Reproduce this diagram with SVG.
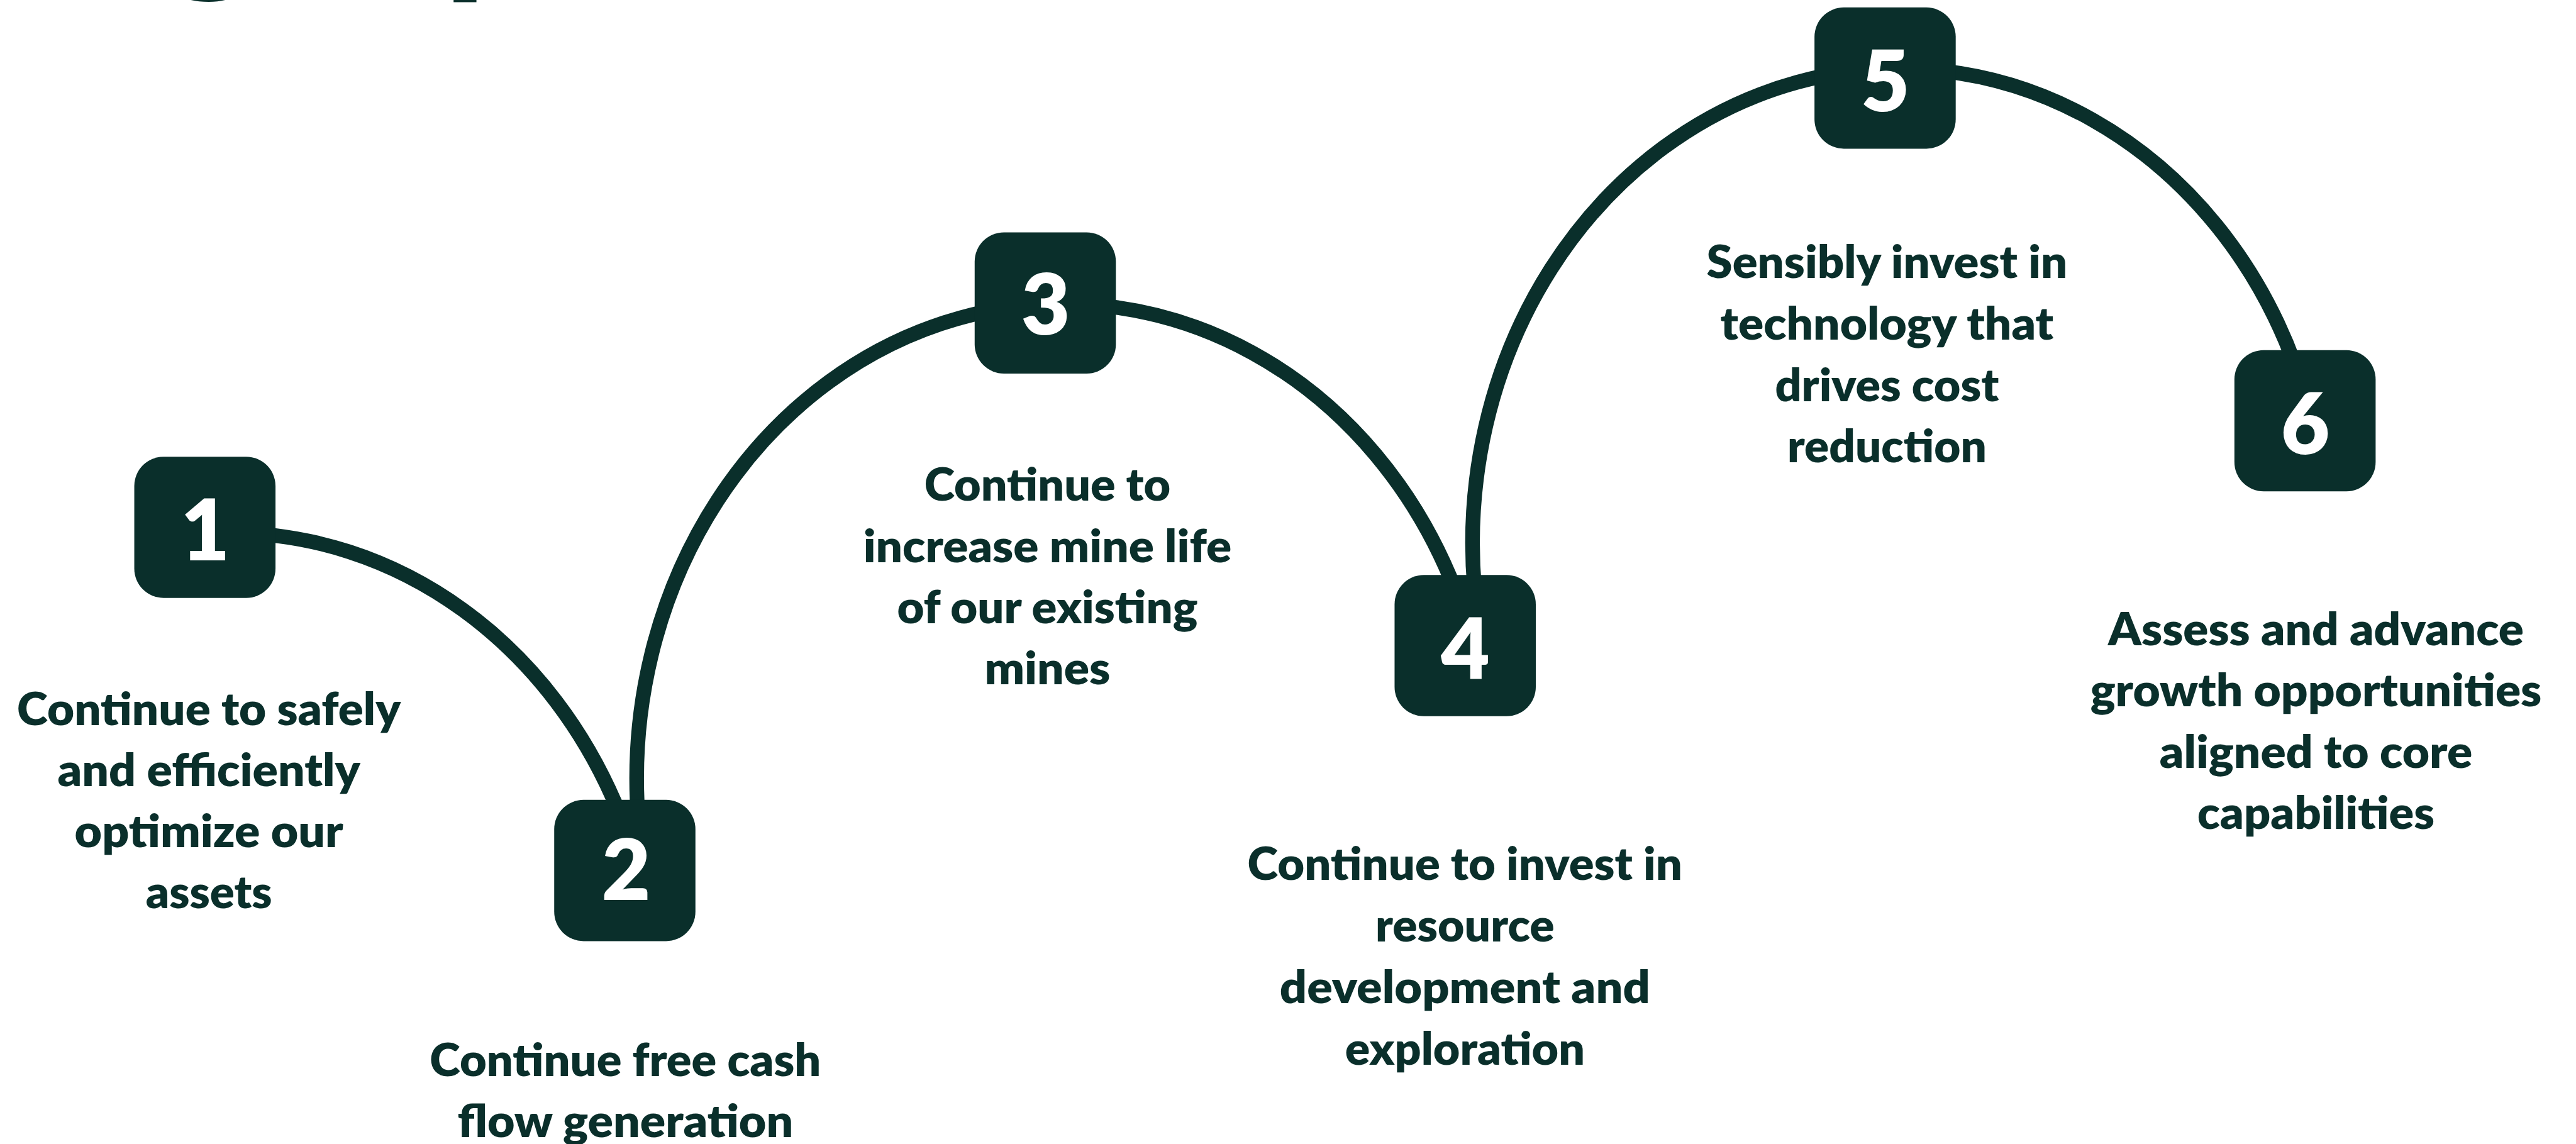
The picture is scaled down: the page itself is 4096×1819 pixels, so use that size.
<svg xmlns="http://www.w3.org/2000/svg" width="4096" height="1819" viewBox="0 0 4096 1819">
  <defs>
    <style>
      .bg { fill: #ffffff; }
      .arc { fill: none; stroke: #0A2F2B; stroke-width: 27.5; stroke-linecap: butt; }
      .box { fill: #0A2F2B; }
      .num { font-family: Lato, "Liberation Sans", sans-serif; font-weight: 800; font-size: 158px; fill: #ffffff; text-anchor: middle; }
      .lbl { font-family: Lato, "Liberation Sans", sans-serif; font-weight: 800; font-size: 85.5px; fill: #0A2F2B; text-anchor: middle; }
      .title { font-family: Lato, "Liberation Sans", sans-serif; font-weight: 700; font-size: 347px; fill: #0A2F2B; }
    </style>
  </defs>

  <rect class="bg" x="0" y="0" width="4096" height="1819"/>

  <!-- drawn in source units, scaled to the page -->
  <g transform="scale(0.84733)">

    <!-- heading, mostly above the page edge -->
    <text class="title"><tspan x="-633" y="-59">Strate</tspan><tspan x="304" y="-59">gic </tspan><tspan x="830" y="-54">priorities</tspan></text>

    <!-- path joining the steps -->
    <g id="connectors">
      <path class="arc" d="M 433 1000 A 801 891 0 0 1 1163 1528"/>
      <path class="arc" d="M 1197 1528 A 801 891 0 0 1 2730 1105"/>
      <path class="arc" d="M 2767 1105 A 801 891 0 0 1 4306 683"/>
    </g>

    <g id="step1">
      <rect class="box" x="252" y="857" width="265" height="265" rx="55"/>
      <text class="num" x="385" y="1051">1</text>
      <text class="lbl" x="392" y="1361" textLength="720" lengthAdjust="spacingAndGlyphs">Continue to safely</text>
      <text class="lbl" x="392" y="1475.5" textLength="568" lengthAdjust="spacingAndGlyphs">and efficiently</text>
      <text class="lbl" x="392" y="1590" textLength="504" lengthAdjust="spacingAndGlyphs">optimize our</text>
      <text class="lbl" x="392" y="1704" textLength="237" lengthAdjust="spacingAndGlyphs">assets</text>
    </g>

    <g id="step2">
      <rect class="box" x="1040" y="1501" width="265" height="265" rx="55"/>
      <text class="num" x="1175" y="1689">2</text>
      <text class="lbl" x="1173.5" y="2019" textLength="734" lengthAdjust="spacingAndGlyphs">Continue free cash</text>
      <text class="lbl" x="1173.5" y="2134" textLength="630" lengthAdjust="spacingAndGlyphs">flow generation</text>
    </g>

    <g id="step3">
      <rect class="box" x="1829" y="436" width="265" height="265" rx="55"/>
      <text class="num" x="1962" y="628">3</text>
      <text class="lbl" x="1965.5" y="940" textLength="462" lengthAdjust="spacingAndGlyphs">Continue to</text>
      <text class="lbl" x="1965.5" y="1055" textLength="691" lengthAdjust="spacingAndGlyphs">increase mine life</text>
      <text class="lbl" x="1965.5" y="1169" textLength="564" lengthAdjust="spacingAndGlyphs">of our existing</text>
      <text class="lbl" x="1965.5" y="1284.5" textLength="236" lengthAdjust="spacingAndGlyphs">mines</text>
    </g>

    <g id="step4">
      <rect class="box" x="2617" y="1079" width="265" height="265" rx="55"/>
      <text class="num" x="2750" y="1275">4</text>
      <text class="lbl" x="2749" y="1651" textLength="816" lengthAdjust="spacingAndGlyphs">Continue to invest in</text>
      <text class="lbl" x="2749" y="1766.5" textLength="336" lengthAdjust="spacingAndGlyphs">resource</text>
      <text class="lbl" x="2749" y="1882" textLength="695" lengthAdjust="spacingAndGlyphs">development and</text>
      <text class="lbl" x="2749" y="1997.5" textLength="450" lengthAdjust="spacingAndGlyphs">exploration</text>
    </g>

    <g id="step5">
      <rect class="box" x="3405" y="14" width="265" height="265" rx="55"/>
      <text class="num" x="3538" y="209">5</text>
      <text class="lbl" x="3541" y="522" textLength="677" lengthAdjust="spacingAndGlyphs">Sensibly invest in</text>
      <text class="lbl" x="3541" y="637" textLength="625" lengthAdjust="spacingAndGlyphs">technology that</text>
      <text class="lbl" x="3541" y="753" textLength="420" lengthAdjust="spacingAndGlyphs">drives cost</text>
      <text class="lbl" x="3541" y="867.5" textLength="374" lengthAdjust="spacingAndGlyphs">reduction</text>
    </g>

    <g id="step6">
      <rect class="box" x="4193" y="657" width="265" height="265" rx="55"/>
      <text class="num" x="4326" y="852">6</text>
      <text class="lbl" x="4346" y="1211" textLength="780" lengthAdjust="spacingAndGlyphs">Assess and advance</text>
      <text class="lbl" x="4346" y="1325" textLength="847" lengthAdjust="spacingAndGlyphs">growth opportunities</text>
      <text class="lbl" x="4346" y="1440.5" textLength="587" lengthAdjust="spacingAndGlyphs">aligned to core</text>
      <text class="lbl" x="4346" y="1555" textLength="445" lengthAdjust="spacingAndGlyphs">capabilities</text>
    </g>

  </g>
</svg>
